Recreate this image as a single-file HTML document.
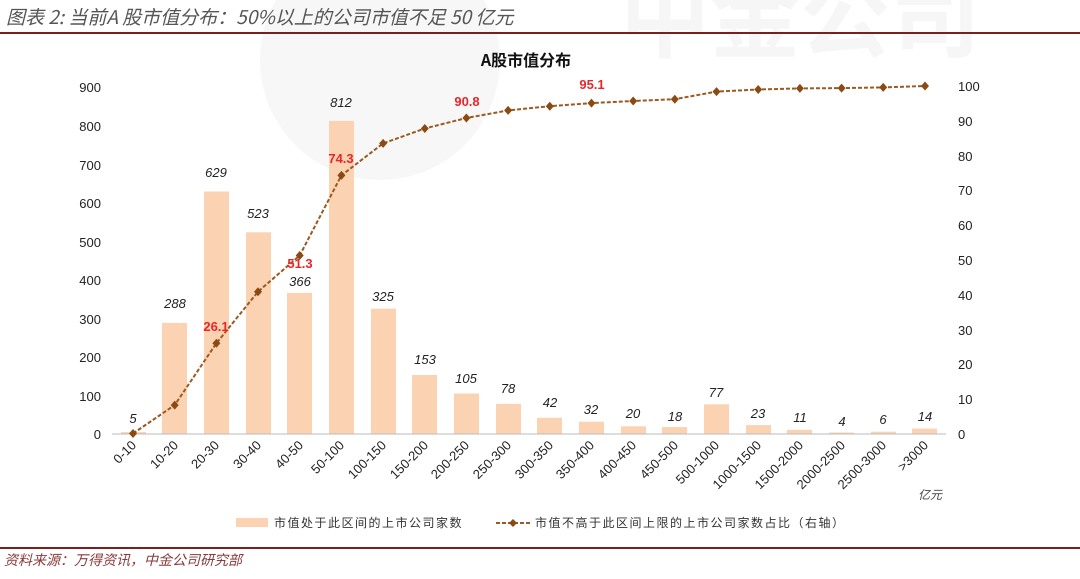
<!DOCTYPE html>
<html><head><meta charset="utf-8"><style>
body{margin:0;background:#fff;}
svg{display:block;font-family:"Liberation Sans","Noto Sans CJK SC",sans-serif;}
</style></head><body>
<svg width="1080" height="579" viewBox="0 0 1080 579">
<circle cx="380" cy="60" r="120" fill="#f7f7f7"/>
<text x="620" y="50" font-size="90" font-weight="bold" fill="#f6f6f6" font-family="Noto Sans CJK SC,sans-serif">中金公司</text>
<text x="6" y="24" font-size="19" font-style="italic" fill="#555" font-family="Noto Sans CJK SC,sans-serif">图表 2:  当前A 股市值分布：50%以上的公司市值不足 50 亿元</text>
<line x1="0" y1="33" x2="1080" y2="33" stroke="#7a1f1f" stroke-width="2"/>
<line x1="0" y1="548" x2="1080" y2="548" stroke="#7a1f1f" stroke-width="2"/>
<text x="4" y="565" font-size="14" font-style="italic" fill="#8a3a3a" font-family="Noto Sans CJK SC,sans-serif">资料来源：万得资讯，中金公司研究部</text>
<text x="526" y="66" font-size="16" font-weight="bold" text-anchor="middle" fill="#111" font-family="Noto Sans CJK SC,sans-serif">A股市值分布</text>
<g font-size="13" fill="#222" text-anchor="end">
<text x="101" y="439">0</text><text x="101" y="401">100</text><text x="101" y="362">200</text><text x="101" y="324">300</text><text x="101" y="285">400</text><text x="101" y="247">500</text><text x="101" y="208">600</text><text x="101" y="170">700</text><text x="101" y="131">800</text><text x="101" y="92">900</text>
</g>
<g font-size="13" fill="#222">
<text x="958" y="439">0</text><text x="958" y="404">10</text><text x="958" y="369">20</text><text x="958" y="335">30</text><text x="958" y="300">40</text><text x="958" y="265">50</text><text x="958" y="230">60</text><text x="958" y="195">70</text><text x="958" y="161">80</text><text x="958" y="126">90</text><text x="958" y="91">100</text>
</g>
<g fill="#fbd3b3">
<rect x="121" y="432.1" width="25" height="1.9"/>
<rect x="162" y="322.9" width="25" height="111.1"/>
<rect x="204" y="191.5" width="25" height="242.5"/>
<rect x="246" y="232.3" width="25" height="201.7"/>
<rect x="287" y="292.9" width="25" height="141.1"/>
<rect x="329" y="120.9" width="25" height="313.1"/>
<rect x="371" y="308.7" width="25" height="125.3"/>
<rect x="412" y="375" width="25" height="59"/>
<rect x="454" y="393.5" width="25" height="40.5"/>
<rect x="496" y="403.9" width="25" height="30.1"/>
<rect x="537" y="417.8" width="25" height="16.2"/>
<rect x="579" y="421.7" width="25" height="12.3"/>
<rect x="621" y="426.3" width="25" height="7.7"/>
<rect x="662" y="427.1" width="25" height="6.9"/>
<rect x="704" y="404.3" width="25" height="29.7"/>
<rect x="746" y="425.1" width="25" height="8.9"/>
<rect x="787" y="429.8" width="25" height="4.2"/>
<rect x="829" y="432.5" width="25" height="1.5"/>
<rect x="871" y="431.7" width="25" height="2.3"/>
<rect x="912" y="428.6" width="25" height="5.4"/>
</g>
<line x1="112" y1="434" x2="946" y2="434" stroke="#bbb" stroke-width="1"/>
<g font-size="13" font-style="italic" fill="#222" text-anchor="middle">
<text x="133" y="423">5</text><text x="175" y="308">288</text><text x="216" y="177">629</text><text x="258" y="218">523</text><text x="300" y="286">366</text><text x="341" y="107">812</text><text x="383" y="301">325</text><text x="425" y="364">153</text><text x="466" y="383">105</text><text x="508" y="393">78</text><text x="550" y="407">42</text><text x="591" y="414">32</text><text x="633" y="418">20</text><text x="675" y="421">18</text><text x="716" y="397">77</text><text x="758" y="418">23</text><text x="800" y="422">11</text><text x="842" y="426">4</text><text x="883" y="424">6</text><text x="925" y="421">14</text>
</g>
<polyline fill="none" stroke="#9a5a22" stroke-width="2" stroke-dasharray="4,2" points="133,433.5 174.7,405.1 216.4,343.2 258,291.7 299.7,255.5 341.4,175.4 383.1,143.4 424.8,128.5 466.4,118 508.1,110.4 549.8,106.2 591.5,103.1 633.2,101 674.8,99.2 716.5,91.6 758.2,89.5 799.9,88.4 841.6,88.1 883.2,87.4 925,86"/>
<g fill="#8a4a12">
<path d="M133,429l4,4.5-4,4.5-4-4.5z"/><path d="M174.7,400.6l4,4.5-4,4.5-4-4.5z"/><path d="M216.4,338.7l4,4.5-4,4.5-4-4.5z"/><path d="M258,287.2l4,4.5-4,4.5-4-4.5z"/><path d="M299.7,251l4,4.5-4,4.5-4-4.5z"/><path d="M341.4,170.9l4,4.5-4,4.5-4-4.5z"/><path d="M383.1,138.9l4,4.5-4,4.5-4-4.5z"/><path d="M424.8,124l4,4.5-4,4.5-4-4.5z"/><path d="M466.4,113.5l4,4.5-4,4.5-4-4.5z"/><path d="M508.1,105.9l4,4.5-4,4.5-4-4.5z"/><path d="M549.8,101.7l4,4.5-4,4.5-4-4.5z"/><path d="M591.5,98.6l4,4.5-4,4.5-4-4.5z"/><path d="M633.2,96.5l4,4.5-4,4.5-4-4.5z"/><path d="M674.8,94.7l4,4.5-4,4.5-4-4.5z"/><path d="M716.5,87.1l4,4.5-4,4.5-4-4.5z"/><path d="M758.2,85l4,4.5-4,4.5-4-4.5z"/><path d="M799.9,83.9l4,4.5-4,4.5-4-4.5z"/><path d="M841.6,83.6l4,4.5-4,4.5-4-4.5z"/><path d="M883.2,82.9l4,4.5-4,4.5-4-4.5z"/><path d="M925,81.5l4,4.5-4,4.5-4-4.5z"/>
</g>
<g font-size="13" font-weight="bold" fill="#e8262a" text-anchor="middle">
<text x="216" y="331">26.1</text><text x="300" y="268">51.3</text><text x="341" y="163">74.3</text><text x="467" y="106">90.8</text><text x="592" y="89">95.1</text>
</g>
<g font-size="13" fill="#222" text-anchor="end">
<text transform="translate(137,446) rotate(-45)">0-10</text>
<text transform="translate(179,446) rotate(-45)">10-20</text>
<text transform="translate(220,446) rotate(-45)">20-30</text>
<text transform="translate(262,446) rotate(-45)">30-40</text>
<text transform="translate(304,446) rotate(-45)">40-50</text>
<text transform="translate(345,446) rotate(-45)">50-100</text>
<text transform="translate(387,446) rotate(-45)">100-150</text>
<text transform="translate(429,446) rotate(-45)">150-200</text>
<text transform="translate(470,446) rotate(-45)">200-250</text>
<text transform="translate(512,446) rotate(-45)">250-300</text>
<text transform="translate(554,446) rotate(-45)">300-350</text>
<text transform="translate(595,446) rotate(-45)">350-400</text>
<text transform="translate(637,446) rotate(-45)">400-450</text>
<text transform="translate(679,446) rotate(-45)">450-500</text>
<text transform="translate(720,446) rotate(-45)">500-1000</text>
<text transform="translate(762,446) rotate(-45)">1000-1500</text>
<text transform="translate(804,446) rotate(-45)">1500-2000</text>
<text transform="translate(846,446) rotate(-45)">2000-2500</text>
<text transform="translate(887,446) rotate(-45)">2500-3000</text>
<text transform="translate(929,446) rotate(-45)">&gt;3000</text>
</g>
<text x="918" y="499" font-size="12" font-style="italic" fill="#444" font-family="Noto Sans CJK SC,sans-serif">亿元</text>
<rect x="236" y="518" width="32" height="9" fill="#fbd3b3"/>
<text x="274" y="527" font-size="12" fill="#333" font-family="Noto Sans CJK SC,sans-serif" letter-spacing="1.5">市值处于此区间的上市公司家数</text>
<line x1="496" y1="523" x2="530" y2="523" stroke="#9a5a22" stroke-width="2" stroke-dasharray="4,2"/>
<path d="M513,519l4,4-4,4-4-4z" fill="#8a4a12"/>
<text x="535" y="527" font-size="12" fill="#333" font-family="Noto Sans CJK SC,sans-serif" letter-spacing="1.5">市值不高于此区间上限的上市公司家数占比（右轴）</text>
</svg>
</body></html>
